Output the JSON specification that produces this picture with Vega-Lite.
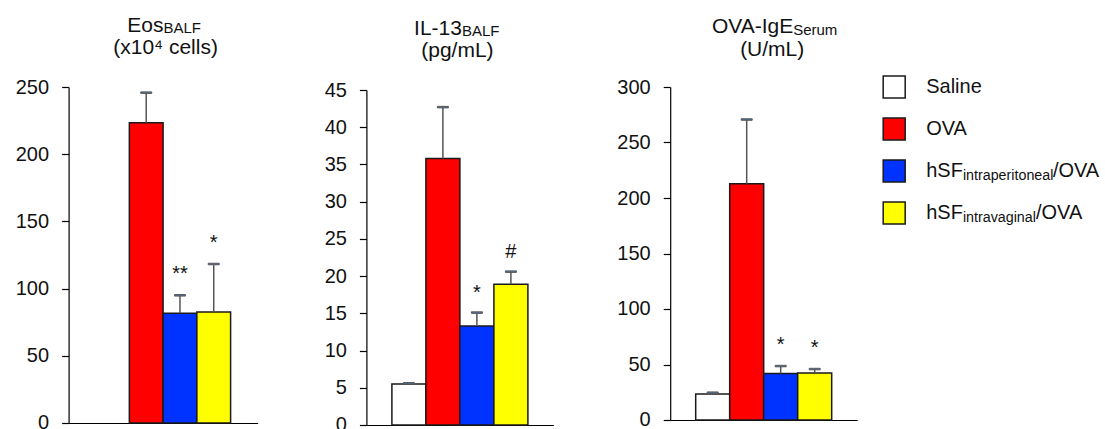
{
  "$schema": "https://vega.github.io/schema/vega-lite/v6.json",
  "padding": {"left": 14.6, "top": 0, "right": 0, "bottom": 0},
  "background": "white",
  "config": {
    "font": "Liberation Sans",
    "view": {"stroke": null},
    "axisY": {"domainColor": "#000", "domainWidth": 1.2, "tickColor": "#000", "tickWidth": 1.2, "tickSize": 7, "labelFontSize": 20, "labelColor": "#111", "labelPadding": 13, "labelOverlap": false, "labelBound": false, "grid": false, "title": null, "labelFont": "Liberation Sans"},
    "axisX": {"labels": false, "ticks": false, "domainColor": "#000", "domainWidth": 1.2, "title": null, "grid": false}
  },
  "datasets": {
    "bars": [
      {"panel": "Eos", "group": "OVA", "value": 223.4, "upper": 245.8, "sig": ""},
      {"panel": "Eos", "group": "hSF intraperitoneal/OVA", "value": 81.6, "upper": 95, "sig": "**"},
      {"panel": "Eos", "group": "hSF intravaginal/OVA", "value": 82.6, "upper": 118.3, "sig": "*"},
      {"panel": "IL13", "group": "Saline", "value": 5.5, "upper": 5.6, "sig": ""},
      {"panel": "IL13", "group": "OVA", "value": 35.8, "upper": 42.7, "sig": ""},
      {"panel": "IL13", "group": "hSF intraperitoneal/OVA", "value": 13.3, "upper": 15.1, "sig": "*"},
      {"panel": "IL13", "group": "hSF intravaginal/OVA", "value": 18.9, "upper": 20.6, "sig": "#"},
      {"panel": "IgE", "group": "Saline", "value": 23.4, "upper": 24.6, "sig": ""},
      {"panel": "IgE", "group": "OVA", "value": 212.8, "upper": 270.7, "sig": ""},
      {"panel": "IgE", "group": "hSF intraperitoneal/OVA", "value": 42, "upper": 48.6, "sig": "*"},
      {"panel": "IgE", "group": "hSF intravaginal/OVA", "value": 42.3, "upper": 45.9, "sig": "*"}
    ],
    "legend": [
      {"group": "Saline", "main": "Saline", "sub": "", "post": ""},
      {"group": "OVA", "main": "OVA", "sub": "", "post": ""},
      {"group": "hSF intraperitoneal/OVA", "main": "hSF", "sub": "intraperitoneal", "post": "/OVA"},
      {"group": "hSF intravaginal/OVA", "main": "hSF", "sub": "intravaginal", "post": "/OVA"}
    ]
  },
  "bounds": "full",
  "spacing": 62.6,
  "hconcat": [
    {
      "bounds": "full",
      "spacing": 65.8,
      "hconcat": [
        {
          "bounds": "full",
          "spacing": 0,
          "vconcat": [
            {
              "width": 189, "height": 77,
              "data": {"values": [{}]},
              "layer": [
                {"mark": {"type": "text", "text": "Eos", "align": "right", "baseline": "alphabetic", "dx": 0.4, "dy": -6.8, "fontSize": 21, "fill": "#111"}, "encoding": {}},
                {"mark": {"type": "text", "text": "BALF", "align": "left", "baseline": "alphabetic", "dx": 0.4, "dy": -5.3, "fontSize": 15, "fill": "#111"}, "encoding": {}},
                {"mark": {"type": "text", "text": "(x10⁴ cells)", "align": "center", "baseline": "alphabetic", "dx": 2.5, "dy": 15.3, "fontSize": 21, "fill": "#111"}, "encoding": {}}
              ]
            },
            {
              "width": 189, "height": 336,
              "data": {"name": "bars"},
              "transform": [{"filter": "datum.panel === 'Eos'"}],
              "encoding": {"x": {"field": "group", "type": "nominal", "scale": {"domain": ["Saline", "OVA", "hSF intraperitoneal/OVA", "hSF intravaginal/OVA"], "paddingInner": 0, "paddingOuter": 0.8}}},
              "layer": [
                {"mark": {"type": "bar", "stroke": "#1a1a1a", "strokeWidth": 1.5},
                 "encoding": {"y": {"field": "value", "type": "quantitative", "scale": {"domain": [0, 250]}, "axis": {"values": [0, 50, 100, 150, 200, 250]}},
                   "fill": {"field": "group", "type": "nominal", "scale": {"domain": ["Saline", "OVA", "hSF intraperitoneal/OVA", "hSF intravaginal/OVA"], "range": ["#ffffff", "#ff0000", "#0033ff", "#ffff00"]}, "legend": null}}},
                {"mark": {"type": "rule", "stroke": "#555", "strokeWidth": 1.5}, "encoding": {"y": {"field": "value", "type": "quantitative", "scale": {"domain": [0, 250]}, "axis": {"values": [0, 50, 100, 150, 200, 250]}}, "y2": {"field": "upper"}}},
                {"mark": {"type": "tick", "stroke": "#555", "thickness": 1.5, "size": 11, "opacity": 1}, "encoding": {"y": {"field": "upper", "type": "quantitative", "scale": {"domain": [0, 250]}, "axis": {"values": [0, 50, 100, 150, 200, 250]}}}},
                {"transform": [{"filter": "datum.sig"}], "mark": {"type": "text", "dy": -15, "fontSize": 20, "baseline": "alphabetic", "fill": "#111"}, "encoding": {"y": {"field": "upper", "type": "quantitative", "scale": {"domain": [0, 250]}, "axis": {"values": [0, 50, 100, 150, 200, 250]}}, "text": {"field": "sig"}}}
              ]
            }
          ]
        },
        {
          "bounds": "full",
          "spacing": 0,
          "vconcat": [
            {
              "width": 187, "height": 80,
              "data": {"values": [{}]},
              "layer": [
                {"mark": {"type": "text", "text": "IL-13", "align": "right", "baseline": "alphabetic", "dx": 2, "dy": -5.3, "fontSize": 21, "fill": "#111"}, "encoding": {}},
                {"mark": {"type": "text", "text": "BALF", "align": "left", "baseline": "alphabetic", "dx": 2, "dy": -3.8, "fontSize": 15, "fill": "#111"}, "encoding": {}},
                {"mark": {"type": "text", "text": "(pg/mL)", "align": "center", "baseline": "alphabetic", "dx": -2.5, "dy": 16.8, "fontSize": 21, "fill": "#111"}, "encoding": {}}
              ]
            },
            {
              "width": 187, "height": 335,
              "data": {"name": "bars"},
              "transform": [{"filter": "datum.panel === 'IL13'"}],
              "encoding": {"x": {"field": "group", "type": "nominal", "scale": {"domain": ["Saline", "OVA", "hSF intraperitoneal/OVA", "hSF intravaginal/OVA"], "paddingInner": 0, "paddingOuter": 0.75}}},
              "layer": [
                {"mark": {"type": "bar", "stroke": "#1a1a1a", "strokeWidth": 1.5},
                 "encoding": {"y": {"field": "value", "type": "quantitative", "scale": {"domain": [0, 45]}, "axis": {"values": [0, 5, 10, 15, 20, 25, 30, 35, 40, 45]}},
                   "fill": {"field": "group", "type": "nominal", "scale": {"domain": ["Saline", "OVA", "hSF intraperitoneal/OVA", "hSF intravaginal/OVA"], "range": ["#ffffff", "#ff0000", "#0033ff", "#ffff00"]}, "legend": null}}},
                {"mark": {"type": "rule", "stroke": "#555", "strokeWidth": 1.5}, "encoding": {"y": {"field": "value", "type": "quantitative", "scale": {"domain": [0, 45]}, "axis": {"values": [0, 5, 10, 15, 20, 25, 30, 35, 40, 45]}}, "y2": {"field": "upper"}}},
                {"mark": {"type": "tick", "stroke": "#555", "thickness": 1.5, "size": 11, "opacity": 1}, "encoding": {"y": {"field": "upper", "type": "quantitative", "scale": {"domain": [0, 45]}, "axis": {"values": [0, 5, 10, 15, 20, 25, 30, 35, 40, 45]}}}},
                {"transform": [{"filter": "datum.sig"}], "mark": {"type": "text", "dy": -14, "fontSize": 20, "baseline": "alphabetic", "fill": "#111"}, "encoding": {"y": {"field": "upper", "type": "quantitative", "scale": {"domain": [0, 45]}, "axis": {"values": [0, 5, 10, 15, 20, 25, 30, 35, 40, 45]}}, "text": {"field": "sig"}}}
              ]
            }
          ]
        }
      ]
    },
    {
      "bounds": "full",
      "spacing": 23,
      "hconcat": [
        {
          "bounds": "full",
          "spacing": 0,
          "vconcat": [
            {
              "width": 187, "height": 77,
              "data": {"values": [{}]},
              "layer": [
                {"mark": {"type": "text", "text": "OVA-IgE", "align": "right", "baseline": "alphabetic", "dx": 29.5, "dy": -5.5, "fontSize": 21, "fill": "#111"}, "encoding": {}},
                {"mark": {"type": "text", "text": "Serum", "align": "left", "baseline": "alphabetic", "dx": 29.5, "dy": -4, "fontSize": 15, "fill": "#111"}, "encoding": {}},
                {"mark": {"type": "text", "text": "(U/mL)", "align": "center", "baseline": "alphabetic", "dx": 8.5, "dy": 17, "fontSize": 21, "fill": "#111"}, "encoding": {}}
              ]
            },
            {
              "width": 187, "height": 333,
              "data": {"name": "bars"},
              "transform": [{"filter": "datum.panel === 'IgE'"}],
              "encoding": {"x": {"field": "group", "type": "nominal", "scale": {"domain": ["Saline", "OVA", "hSF intraperitoneal/OVA", "hSF intravaginal/OVA"], "paddingInner": 0, "paddingOuter": 0.75}}},
              "layer": [
                {"mark": {"type": "bar", "stroke": "#1a1a1a", "strokeWidth": 1.5},
                 "encoding": {"y": {"field": "value", "type": "quantitative", "scale": {"domain": [0, 300]}, "axis": {"values": [0, 50, 100, 150, 200, 250, 300]}},
                   "fill": {"field": "group", "type": "nominal", "scale": {"domain": ["Saline", "OVA", "hSF intraperitoneal/OVA", "hSF intravaginal/OVA"], "range": ["#ffffff", "#ff0000", "#0033ff", "#ffff00"]}, "legend": null}}},
                {"mark": {"type": "rule", "stroke": "#555", "strokeWidth": 1.5}, "encoding": {"y": {"field": "value", "type": "quantitative", "scale": {"domain": [0, 300]}, "axis": {"values": [0, 50, 100, 150, 200, 250, 300]}}, "y2": {"field": "upper"}}},
                {"mark": {"type": "tick", "stroke": "#555", "thickness": 1.5, "size": 11, "opacity": 1}, "encoding": {"y": {"field": "upper", "type": "quantitative", "scale": {"domain": [0, 300]}, "axis": {"values": [0, 50, 100, 150, 200, 250, 300]}}}},
                {"transform": [{"filter": "datum.sig"}], "mark": {"type": "text", "dy": -15, "fontSize": 20, "baseline": "alphabetic", "fill": "#111"}, "encoding": {"y": {"field": "upper", "type": "quantitative", "scale": {"domain": [0, 300]}, "axis": {"values": [0, 50, 100, 150, 200, 250, 300]}}, "text": {"field": "sig"}}}
              ]
            }
          ]
        },
        {
          "width": 22, "height": 252,
          "data": {"name": "legend"},
          "encoding": {"y": {"field": "group", "type": "nominal", "scale": {"type": "band", "paddingInner": 0, "paddingOuter": 1, "align": 0.786, "domain": ["Saline", "OVA", "hSF intraperitoneal/OVA", "hSF intravaginal/OVA"]}, "axis": null}},
          "layer": [
            {"mark": {"type": "point", "shape": "square", "size": 484, "filled": true, "stroke": "#1a1a1a", "strokeWidth": 1.5, "opacity": 1},
             "encoding": {"fill": {"field": "group", "type": "nominal", "scale": {"domain": ["Saline", "OVA", "hSF intraperitoneal/OVA", "hSF intravaginal/OVA"], "range": ["#ffffff", "#ff0000", "#0033ff", "#ffff00"]}, "legend": null}}},
            {"mark": {"type": "text", "align": "left", "baseline": "alphabetic", "dx": 32, "dy": 5.7, "fontSize": 20, "fill": "#111"}, "encoding": {"text": {"field": "main"}}},
            {"transform": [{"filter": "datum.sub"}], "mark": {"type": "text", "align": "left", "baseline": "alphabetic", "dx": 68.7, "dy": 8.7, "fontSize": 14.3, "fill": "#111"}, "encoding": {"text": {"field": "sub"}}},
            {"transform": [{"filter": "datum.sub === 'intraperitoneal'"}], "mark": {"type": "text", "align": "left", "baseline": "alphabetic", "dx": 158.7, "dy": 5.7, "fontSize": 20, "fill": "#111"}, "encoding": {"text": {"field": "post"}}},
            {"transform": [{"filter": "datum.sub === 'intravaginal'"}], "mark": {"type": "text", "align": "left", "baseline": "alphabetic", "dx": 141.8, "dy": 5.7, "fontSize": 20, "fill": "#111"}, "encoding": {"text": {"field": "post"}}}
          ]
        }
      ]
    }
  ]
}
